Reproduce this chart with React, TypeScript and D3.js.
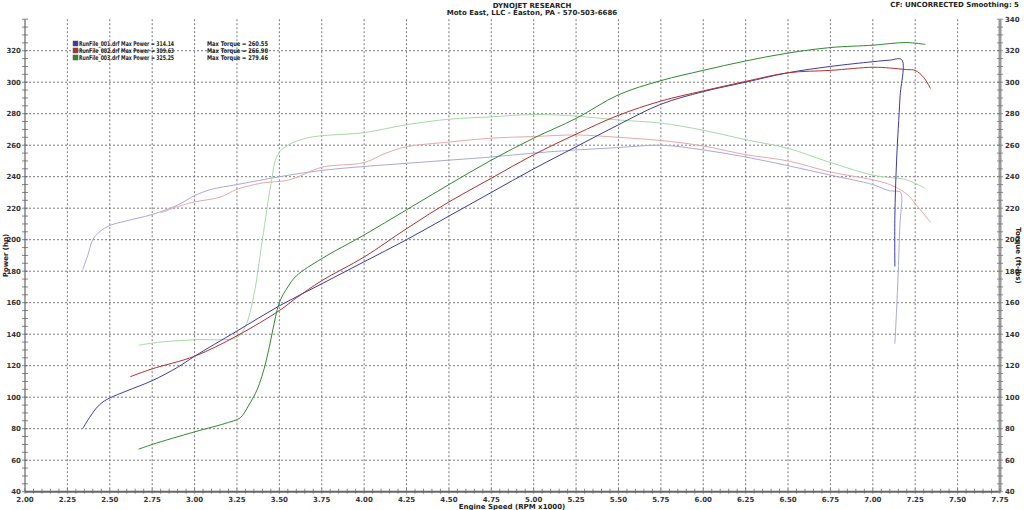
import React from "react";
import * as d3 from "d3";

type P = [number, number];

const rpmTicks = [2.0, 2.25, 2.5, 2.75, 3.0, 3.25, 3.5, 3.75, 4.0, 4.25, 4.5, 4.75, 5.0, 5.25, 5.5, 5.75, 6.0, 6.25, 6.5, 6.75, 7.0, 7.25, 7.5, 7.75];
const yTicks = [40, 60, 80, 100, 120, 140, 160, 180, 200, 220, 240, 260, 280, 300, 320];

const run1Power: P[] = [[2.34,80],[2.38,87],[2.42,93],[2.46,97],[2.5,99.5],[2.6,104],[2.75,110.5],[2.9,119],[3.0,126],[3.25,142],[3.5,158],[3.75,172],[4.0,186],[4.25,200],[4.5,215],[4.75,230],[5.0,245],[5.25,259],[5.5,273],[5.75,286],[6.0,294],[6.25,300],[6.5,306],[6.75,310],[7.0,313],[7.1,314],[7.17,314.3],[7.16,290],[7.14,250],[7.13,215],[7.13,183]];
const run1Torque: P[] = [[2.34,181],[2.37,190],[2.4,200],[2.44,205],[2.5,209],[2.6,212],[2.75,216],[2.9,222],[3.0,228],[3.1,232],[3.25,235],[3.5,240],[3.75,244],[4.0,246.5],[4.25,248.5],[4.5,250.5],[4.75,252.5],[5.0,255],[5.25,257],[5.5,258.5],[5.75,260],[6.0,257],[6.25,252.5],[6.5,247],[6.75,241],[7.0,235],[7.1,231],[7.16,230.5],[7.17,228],[7.16,210],[7.15,180],[7.14,155],[7.13,134]];
const run2Power: P[] = [[2.62,113],[2.75,118],[3.0,126],[3.25,139],[3.5,155],[3.6,163],[3.75,174],[4.0,189],[4.25,207],[4.5,224],[4.75,239],[5.0,254],[5.25,267],[5.5,279],[5.75,288],[6.0,294.5],[6.25,300.5],[6.5,306],[6.75,307.5],[7.0,309.5],[7.1,309],[7.2,308],[7.25,307.5],[7.3,303],[7.34,296]];
const run2Torque: P[] = [[2.8,217],[2.9,221],[3.0,224],[3.15,227],[3.25,232],[3.4,236],[3.56,238],[3.75,246],[4.0,249],[4.13,255],[4.25,259],[4.5,262],[4.75,264.5],[5.0,265.5],[5.25,266.5],[5.5,265],[5.75,263],[6.0,259.5],[6.25,254],[6.5,250],[6.75,243],[7.0,238],[7.1,235],[7.2,229],[7.25,223],[7.34,211]];
const run3Power: P[] = [[2.67,67],[2.75,70],[3.0,78],[3.2,84],[3.27,87],[3.32,95],[3.37,105],[3.42,122],[3.46,142],[3.5,160],[3.55,170],[3.6,177],[3.75,188],[4.0,203],[4.25,219],[4.5,235],[4.75,250.5],[5.0,264.5],[5.25,277],[5.5,292],[5.75,301],[6.0,307.5],[6.25,313.5],[6.5,318.5],[6.75,322],[7.0,323.5],[7.1,324.5],[7.2,325.2],[7.31,324]];
const run3Torque: P[] = [[2.67,133],[2.8,135],[3.0,136.5],[3.25,138],[3.3,145],[3.35,165],[3.4,200],[3.45,235],[3.49,254],[3.55,260],[3.66,264.5],[3.75,266],[4.0,268],[4.25,273],[4.5,276.5],[4.75,278],[5.0,279.5],[5.25,278.5],[5.5,276],[5.75,274],[6.0,269.5],[6.25,263.5],[6.5,258],[6.75,249],[7.0,241],[7.1,239.5],[7.2,238],[7.31,232.5]];

const legendNames = ["RunFile_001.drf", "RunFile_002.drf", "RunFile_003.drf"];
const maxPower = ["314.14", "309.63", "325.25"];
const maxTorque = ["260.55", "266.90", "279.46"];

const powerColors = ["#3b3b9e", "#b3302f", "#2f8a2f"];
const torqueColors = ["#a9a9d9", "#e8a8a8", "#a8d8a8"];

export default function App() {
  const W = 1024, H = 510;
  const x = d3.scaleLinear().domain([2.0, 7.75]).range([25, 1000]);
  const y = d3.scaleLinear().domain([40, 340]).range([491.7, 19.2]);
  const line = d3.line<P>().x(d => x(d[0])).y(d => y(d[1])).curve(d3.curveCatmullRom.alpha(0.5));
  const xMinor = d3.range(2.0, 7.7501, 0.05);
  const yMinor = d3.range(40, 340.01, 5);
  const font = "'DejaVu Sans', Verdana, sans-serif";
  const powers = [run1Power, run2Power, run3Power];
  const torques = [run1Torque, run2Torque, run3Torque];
  return (
    <svg width={W} height={H} style={{ position: "absolute", left: 0, top: 0, background: "#fff" }} fontFamily={font}>
      <rect width={W} height={H} fill="#fff" />
      {rpmTicks.slice(1, -1).map(t => (
        <line key={"gx" + t} x1={x(t)} x2={x(t)} y1={y(340)} y2={y(40)} stroke="#555" strokeWidth={0.8} strokeDasharray="2,2" />
      ))}
      {yTicks.slice(1).map(t => (
        <line key={"gy" + t} x1={x(2)} x2={x(7.75)} y1={y(t)} y2={y(t)} stroke="#555" strokeWidth={0.8} strokeDasharray="2,2" />
      ))}
      {torques.map((d, i) => (
        <path key={"t" + i} d={line(d) || ""} fill="none" stroke={torqueColors[i]} strokeWidth={1} />
      ))}
      {powers.map((d, i) => (
        <path key={"p" + i} d={line(d) || ""} fill="none" stroke={powerColors[i]} strokeWidth={1} />
      ))}
      <line x1={x(2)} x2={x(2)} y1={y(340)} y2={y(40)} stroke="#666" strokeWidth={1.2} />
      <line x1={x(2)} x2={x(7.75)} y1={y(40)} y2={y(40)} stroke="#666" strokeWidth={2} />
      <line x1={x(7.75)} x2={x(7.75)} y1={y(340)} y2={y(40)} stroke="#999" strokeWidth={3} />
      {yMinor.map(t => (
        <g key={"ym" + t}>
          <line x1={x(2) - 3} x2={x(2) + 3} y1={y(t)} y2={y(t)} stroke="#666" strokeWidth={0.8} />
          <line x1={x(7.75) - 3} x2={x(7.75) + 3} y1={y(t)} y2={y(t)} stroke="#777" strokeWidth={0.8} />
        </g>
      ))}
      {xMinor.map(t => (
        <line key={"xm" + t} x1={x(t)} x2={x(t)} y1={y(40) - 3} y2={y(40) + 2} stroke="#666" strokeWidth={0.8} />
      ))}
      {rpmTicks.map(t => (
        <text key={"xl" + t} x={x(t)} y={502} fontSize={7} fontWeight="bold" textAnchor="middle" fill="#333">{t.toFixed(2)}</text>
      ))}
      {yTicks.map(t => (
        <text key={"yl" + t} x={x(2) - 4} y={y(t) + 2.5} fontSize={7} fontWeight="bold" textAnchor="end" fill="#333">{t}</text>
      ))}
      {[...yTicks, 340].map(t => (
        <text key={"yr" + t} x={x(7.75) + 5} y={y(t) + 2.5} fontSize={7} fontWeight="bold" textAnchor="start" fill="#333">{t}</text>
      ))}
      <text x={512} y={509} fontSize={7} fontWeight="bold" textAnchor="middle" fill="#222">Engine Speed (RPM x1000)</text>
      <text transform={`translate(8,${y(190)}) rotate(-90)`} fontSize={7} fontWeight="bold" textAnchor="middle" fill="#222">Power (hp)</text>
      <text transform={`translate(1016,${y(190)}) rotate(90)`} fontSize={7} fontWeight="bold" textAnchor="middle" fill="#222">Torque (ft-lbs)</text>
      <text x={532} y={8} fontSize={7} fontWeight="bold" textAnchor="middle" fill="#222">DYNOJET RESEARCH</text>
      <text x={532} y={15} fontSize={7} fontWeight="bold" textAnchor="middle" fill="#222">Moto East, LLC - Easton, PA - 570-503-6686</text>
      <text x={1019} y={7} fontSize={7} fontWeight="bold" textAnchor="end" fill="#222">CF: UNCORRECTED  Smoothing: 5</text>
      {legendNames.map((n, i) => (
        <g key={"lg" + i}>
          <rect x={73} y={41 + i * 7} width={5} height={5} fill={powerColors[i]} stroke="#555" strokeWidth={0.5} />
          <text x={79} y={46 + i * 7} fontSize={6.5} fontWeight="bold" fill="#222" textLength={95} lengthAdjust="spacingAndGlyphs">{`${n} Max Power = ${maxPower[i]}`}</text>
          <text x={207} y={46 + i * 7} fontSize={6.5} fontWeight="bold" fill="#222" textLength={61} lengthAdjust="spacingAndGlyphs">{`Max Torque = ${maxTorque[i]}`}</text>
        </g>
      ))}
    </svg>
  );
}
